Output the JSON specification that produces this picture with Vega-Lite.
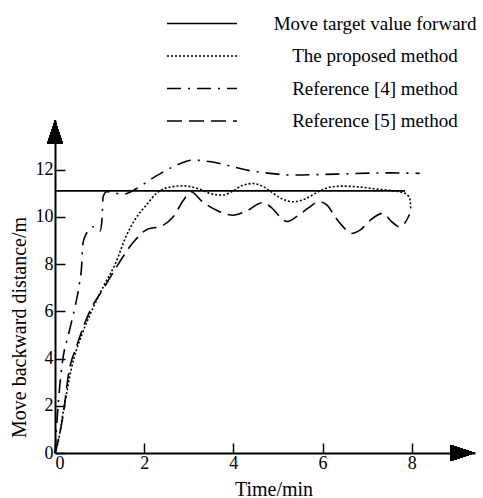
{
  "$schema": "https://vega.github.io/schema/vega-lite/v6.json",
  "width": 420,
  "height": 333,
  "autosize": {"type": "none"},
  "padding": {"left": 55, "top": 120, "right": 8, "bottom": 45},
  "background": "white",
  "config": {
    "font": "Liberation Serif",
    "view": {"stroke": null},
    "axis": {
      "grid": false,
      "domainColor": "black",
      "domainWidth": 2,
      "tickColor": "black",
      "tickWidth": 1.5,
      "tickSize": -10,
      "labelColor": "black",
      "labelFontSize": 18,
      "labelFont": "Liberation Serif",
      "titleColor": "black",
      "titleFontSize": 20,
      "titleFont": "Liberation Serif",
      "titleFontWeight": "normal"
    }
  },
  "data": {
    "values": [
      {"series": "Move target value forward", "x": 0, "y": 11.1},
      {"series": "Move target value forward", "x": 7.85, "y": 11.1},

      {"series": "The proposed method", "x": 0, "y": 0},
      {"series": "The proposed method", "x": 0.05, "y": 0.3},
      {"series": "The proposed method", "x": 0.2, "y": 1.9},
      {"series": "The proposed method", "x": 0.37, "y": 3.6},
      {"series": "The proposed method", "x": 0.6, "y": 5.0},
      {"series": "The proposed method", "x": 0.82, "y": 6.0},
      {"series": "The proposed method", "x": 1.1, "y": 7.1},
      {"series": "The proposed method", "x": 1.35, "y": 8.0},
      {"series": "The proposed method", "x": 1.6, "y": 9.2},
      {"series": "The proposed method", "x": 1.8, "y": 9.9},
      {"series": "The proposed method", "x": 2.05, "y": 10.5},
      {"series": "The proposed method", "x": 2.28, "y": 11.0},
      {"series": "The proposed method", "x": 2.55, "y": 11.25},
      {"series": "The proposed method", "x": 2.88, "y": 11.31},
      {"series": "The proposed method", "x": 3.2, "y": 11.2},
      {"series": "The proposed method", "x": 3.5, "y": 10.98},
      {"series": "The proposed method", "x": 3.75, "y": 10.92},
      {"series": "The proposed method", "x": 4.0, "y": 11.1},
      {"series": "The proposed method", "x": 4.2, "y": 11.33},
      {"series": "The proposed method", "x": 4.45, "y": 11.41},
      {"series": "The proposed method", "x": 4.65, "y": 11.3},
      {"series": "The proposed method", "x": 4.82, "y": 11.1},
      {"series": "The proposed method", "x": 5.05, "y": 10.8},
      {"series": "The proposed method", "x": 5.34, "y": 10.64},
      {"series": "The proposed method", "x": 5.6, "y": 10.75},
      {"series": "The proposed method", "x": 5.94, "y": 11.1},
      {"series": "The proposed method", "x": 6.2, "y": 11.27},
      {"series": "The proposed method", "x": 6.46, "y": 11.3},
      {"series": "The proposed method", "x": 6.9, "y": 11.25},
      {"series": "The proposed method", "x": 7.3, "y": 11.16},
      {"series": "The proposed method", "x": 7.6, "y": 11.1},
      {"series": "The proposed method", "x": 7.85, "y": 11.0},
      {"series": "The proposed method", "x": 7.96, "y": 10.75},
      {"series": "The proposed method", "x": 7.98, "y": 10.3},

      {"series": "Reference [4] method", "x": 0, "y": 0},
      {"series": "Reference [4] method", "x": 0.05, "y": 1.5},
      {"series": "Reference [4] method", "x": 0.1, "y": 2.7},
      {"series": "Reference [4] method", "x": 0.17, "y": 3.9},
      {"series": "Reference [4] method", "x": 0.3, "y": 5.0},
      {"series": "Reference [4] method", "x": 0.45, "y": 6.2},
      {"series": "Reference [4] method", "x": 0.55, "y": 7.2},
      {"series": "Reference [4] method", "x": 0.6, "y": 8.0},
      {"series": "Reference [4] method", "x": 0.62, "y": 8.8},
      {"series": "Reference [4] method", "x": 0.68, "y": 9.2},
      {"series": "Reference [4] method", "x": 0.78, "y": 9.45},
      {"series": "Reference [4] method", "x": 0.86, "y": 9.58},
      {"series": "Reference [4] method", "x": 0.95, "y": 9.5},
      {"series": "Reference [4] method", "x": 1.01, "y": 9.4},
      {"series": "Reference [4] method", "x": 1.05, "y": 9.8},
      {"series": "Reference [4] method", "x": 1.08, "y": 10.85},
      {"series": "Reference [4] method", "x": 1.16, "y": 11.06},
      {"series": "Reference [4] method", "x": 1.35, "y": 11.0},
      {"series": "Reference [4] method", "x": 1.53, "y": 10.96},
      {"series": "Reference [4] method", "x": 1.83, "y": 11.2},
      {"series": "Reference [4] method", "x": 2.2, "y": 11.65},
      {"series": "Reference [4] method", "x": 2.65, "y": 12.12},
      {"series": "Reference [4] method", "x": 3.1, "y": 12.4},
      {"series": "Reference [4] method", "x": 3.5, "y": 12.33},
      {"series": "Reference [4] method", "x": 3.85, "y": 12.19},
      {"series": "Reference [4] method", "x": 4.3, "y": 11.98},
      {"series": "Reference [4] method", "x": 4.82, "y": 11.84},
      {"series": "Reference [4] method", "x": 5.34, "y": 11.77},
      {"series": "Reference [4] method", "x": 6.32, "y": 11.81},
      {"series": "Reference [4] method", "x": 7.44, "y": 11.86},
      {"series": "Reference [4] method", "x": 8.18, "y": 11.84},

      {"series": "Reference [5] method", "x": 0, "y": 0},
      {"series": "Reference [5] method", "x": 0.08, "y": 0.6},
      {"series": "Reference [5] method", "x": 0.19, "y": 1.7},
      {"series": "Reference [5] method", "x": 0.3, "y": 3.3},
      {"series": "Reference [5] method", "x": 0.5, "y": 4.6},
      {"series": "Reference [5] method", "x": 0.78, "y": 6.0},
      {"series": "Reference [5] method", "x": 1.1, "y": 7.0},
      {"series": "Reference [5] method", "x": 1.42, "y": 8.0},
      {"series": "Reference [5] method", "x": 1.79, "y": 9.0},
      {"series": "Reference [5] method", "x": 2.1, "y": 9.5},
      {"series": "Reference [5] method", "x": 2.35, "y": 9.58},
      {"series": "Reference [5] method", "x": 2.65, "y": 10.0},
      {"series": "Reference [5] method", "x": 2.88, "y": 10.7},
      {"series": "Reference [5] method", "x": 3.05, "y": 11.06},
      {"series": "Reference [5] method", "x": 3.3, "y": 10.65},
      {"series": "Reference [5] method", "x": 3.6, "y": 10.3},
      {"series": "Reference [5] method", "x": 4.0, "y": 10.07},
      {"series": "Reference [5] method", "x": 4.3, "y": 10.25},
      {"series": "Reference [5] method", "x": 4.65, "y": 10.6},
      {"series": "Reference [5] method", "x": 4.85, "y": 10.4},
      {"series": "Reference [5] method", "x": 5.05, "y": 10.0},
      {"series": "Reference [5] method", "x": 5.2, "y": 9.8},
      {"series": "Reference [5] method", "x": 5.45, "y": 10.05},
      {"series": "Reference [5] method", "x": 5.7, "y": 10.4},
      {"series": "Reference [5] method", "x": 5.92, "y": 10.64},
      {"series": "Reference [5] method", "x": 6.1, "y": 10.5},
      {"series": "Reference [5] method", "x": 6.3, "y": 9.95},
      {"series": "Reference [5] method", "x": 6.5, "y": 9.5},
      {"series": "Reference [5] method", "x": 6.65, "y": 9.3},
      {"series": "Reference [5] method", "x": 6.85, "y": 9.45},
      {"series": "Reference [5] method", "x": 7.1, "y": 9.9},
      {"series": "Reference [5] method", "x": 7.35, "y": 10.15},
      {"series": "Reference [5] method", "x": 7.55, "y": 9.8},
      {"series": "Reference [5] method", "x": 7.72, "y": 9.58},
      {"series": "Reference [5] method", "x": 7.85, "y": 9.75},
      {"series": "Reference [5] method", "x": 7.95, "y": 10.1}
    ]
  },
  "layer": [
    {
      "mark": {"type": "line", "interpolate": "monotone", "strokeWidth": 1.6, "color": "black"},
      "encoding": {
        "x": {
          "field": "x", "type": "quantitative",
          "scale": {"domain": [0, 9.42], "nice": false, "zero": false},
          "axis": {"values": [0, 2, 4, 6, 8], "title": "Time/min", "titleX": 218.5, "titleY": 36, "titleBaseline": "middle", "titleAlign": "center", "labelPadding": 11}
        },
        "y": {
          "field": "y", "type": "quantitative",
          "scale": {"domain": [0, 14.1], "nice": false},
          "axis": {"values": [0, 2, 4, 6, 8, 10, 12], "title": "Move backward distance/m", "titleX": -35.5, "titleY": 207, "titleAngle": -90, "titleBaseline": "middle", "titleAlign": "center", "labelPadding": 12}
        },
        "strokeDash": {
          "field": "series", "type": "nominal",
          "scale": {
            "domain": ["Move target value forward", "The proposed method", "Reference [4] method", "Reference [5] method"],
            "range": [[1, 0], [2, 2], [14, 7, 2, 7], [15, 7]]
          },
          "legend": {
            "orient": "none", "legendX": 137.5, "legendY": -106,
            "title": null, "padding": 0,
            "symbolType": "M-7,0H7", "symbolSize": 100,
            "symbolStrokeWidth": 1.6, "symbolStrokeColor": "black", "symbolFillColor": "transparent",
            "labelFontSize": 19, "labelFont": "Liberation Serif", "labelColor": "black",
            "labelAlign": "center", "labelOffset": 163.5, "labelLimit": 400,
            "rowPadding": 12.5
          }
        }
      }
    },
    {
      "mark": {"type": "point", "shape": "M-1,-0.67L1,0L-1,0.67Z", "filled": true, "color": "black", "size": 576, "opacity": 1, "strokeWidth": 0},
      "encoding": {"x": {"datum": 9.15}, "y": {"datum": 0}}
    },
    {
      "mark": {"type": "point", "shape": "M-0.67,1L0,-1L0.67,1Z", "filled": true, "color": "black", "size": 560, "opacity": 1, "strokeWidth": 0},
      "encoding": {"x": {"datum": 0}, "y": {"datum": 13.6}}
    }
  ]
}
